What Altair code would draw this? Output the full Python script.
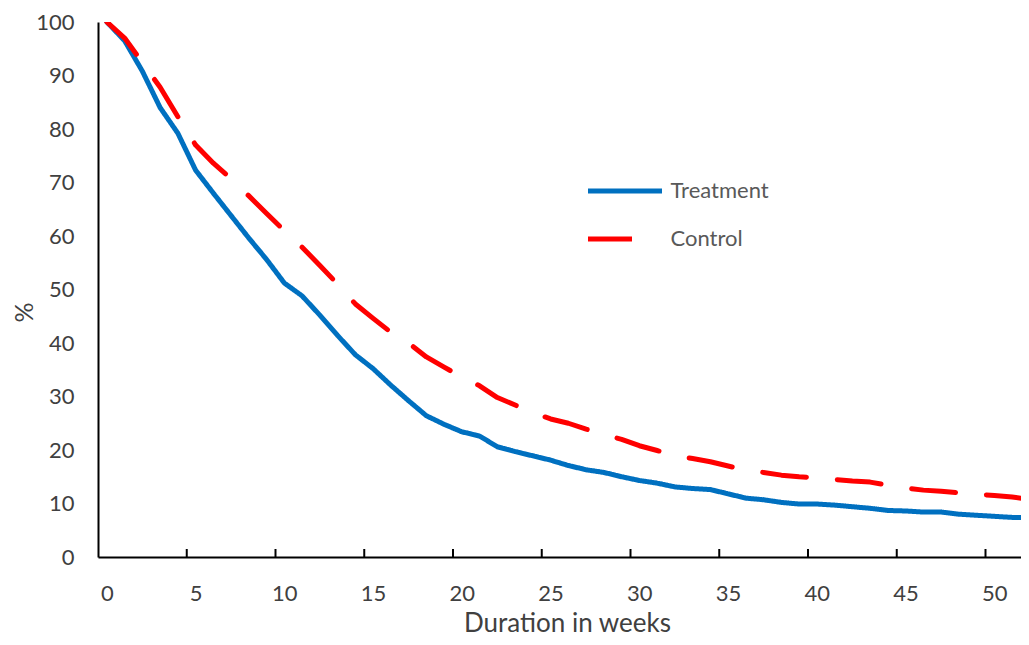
import altair as alt
import pandas as pd

weeks = list(range(0, 53))
treatment = [100, 96.5, 90.8, 84.0, 79.2, 72.3, 68.0, 63.8, 59.6, 55.6,
             51.2, 48.8, 45.2, 41.4, 37.8, 35.2, 32.1, 29.2, 26.4, 24.8,
             23.4, 22.6, 20.6, 19.7, 18.9, 18.1, 17.1, 16.3, 15.8, 15.0,
             14.3, 13.8, 13.1, 12.8, 12.6, 11.8, 11.0, 10.7, 10.2, 9.9,
             9.9, 9.7, 9.4, 9.1, 8.7, 8.6, 8.4, 8.4, 8.0, 7.8,
             7.6, 7.4, 7.4]
control = [100, 97.0, 92.4, 87.8, 82.3, 77.0, 73.6, 70.7, 67.5, 64.2,
           61.0, 57.9, 54.5, 51.0, 47.3, 44.6, 42.0, 40.0, 37.4, 35.5,
           33.6, 32.0, 29.8, 28.4, 27.0, 25.8, 25.0, 23.9, 22.9, 22.0,
           20.8, 19.9, 19.0, 18.4, 17.8, 17.0, 16.2, 15.8, 15.3, 15.0,
           14.8, 14.5, 14.2, 14.0, 13.4, 12.9, 12.5, 12.3, 12.0, 11.7,
           11.5, 11.2, 10.8]
series_names = ["Treatment", "Control"]
series_colors = ["#0070C0", "#FF0000"]
x_labels = [0, 5, 10, 15, 20, 25, 30, 35, 40, 45, 50]
x_tick_marks = [4.5, 9.5, 14.5, 19.5, 24.5, 29.5, 34.5, 39.5, 44.5, 49.5]
y_labels = [0, 10, 20, 30, 40, 50, 60, 70, 80, 90, 100]

df = pd.DataFrame({
    "week": weeks * 2,
    "pct": treatment + control,
    "series": ["Treatment"] * len(weeks) + ["Control"] * len(weeks),
})
ticks_df = pd.DataFrame({"week": x_tick_marks})

W, H = 923, 535
FONT = "Lato"

xscale = alt.Scale(domain=[-0.5, 51.5], nice=False, zero=False)
yscale = alt.Scale(domain=[0, 100], nice=False)

x_axis = alt.Axis(values=x_labels, ticks=False, tickSize=0, grid=False,
                  domainColor="black", domainWidth=2,
                  labelFont=FONT, labelFontSize=22, labelColor="#404040",
                  labelPadding=26, labelFlush=False,
                  title="Duration in weeks", titleFont=FONT, titleFontSize=26,
                  titleFontWeight="normal", titleColor="#404040",
                  titleX=469, titleY=79, titleBaseline="bottom")

legend = alt.Legend(
    title=None, orient="none", legendX=487.5, legendY=150,
    symbolType="stroke", symbolSize=74 * 74, symbolStrokeWidth=5,
    labelFont=FONT, labelFontSize=22, labelColor="#595959",
    labelOffset=6, clipHeight=38, rowPadding=10, padding=0,
)

lines = alt.Chart(df).mark_line(strokeWidth=5, strokeCap="round", strokeJoin="round", clip=True).encode(
    x=alt.X("week:Q", scale=xscale, axis=x_axis),
    y=alt.Y("pct:Q", scale=yscale,
            axis=alt.Axis(values=y_labels, ticks=False, tickSize=0, grid=False,
                          domainColor="black", domainWidth=2,
                          labelFont=FONT, labelFontSize=22, labelColor="#404040",
                          labelPadding=24,
                          title="%", titleFont=FONT, titleFontSize=25,
                          titleFontWeight="normal", titleColor="#404040",
                          titleAngle=270, titleX=-74, titleY=290,
                          titleAlign="center", titleBaseline="middle")),
    color=alt.Color("series:N", scale=alt.Scale(domain=series_names, range=series_colors), legend=legend),
    strokeDash=alt.StrokeDash("series:N", scale=alt.Scale(domain=series_names, range=[[1, 0], [44, 31]]), legend=legend),
)

tick_rules = alt.Chart(ticks_df).mark_rule(color="black", strokeWidth=2).encode(
    x=alt.X("week:Q", scale=xscale, axis=x_axis),
    y=alt.value(H),
    y2=alt.value(H - 8),
)

chart = alt.layer(lines, tick_rules).properties(
    width=W, height=H,
    background="white",
    autosize=alt.AutoSizeParams(type="none"),
    padding={"left": 90, "top": 14, "right": 0, "bottom": 80},
).configure_view(stroke=None)

chart.save("out.html", embed_options={"renderer": "svg", "actions": False})
